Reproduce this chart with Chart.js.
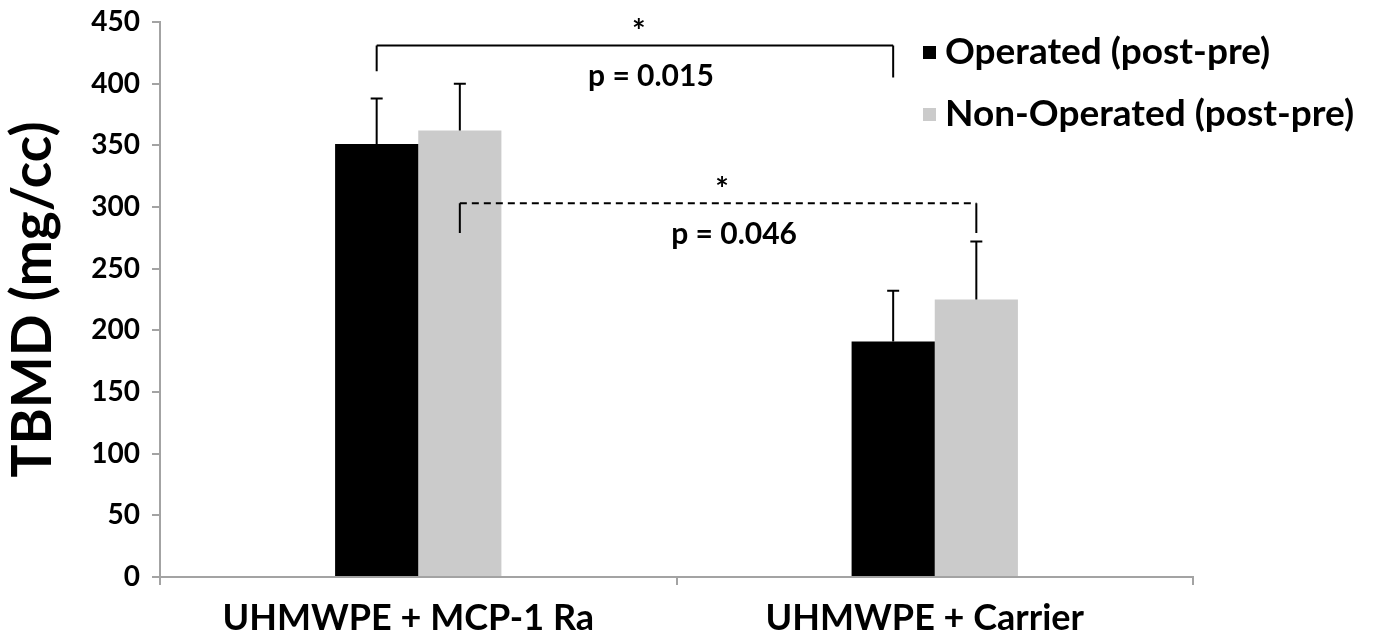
<!DOCTYPE html>
<html>
<head>
<meta charset="utf-8">
<script src="https://cdn.jsdelivr.net/npm/chart.js@4.4.1/dist/chart.umd.min.js"></script>
<style>
  html, body { margin: 0; padding: 0; background: #fff; }
</style>
</head>
<body>
<canvas id="chart" width="1375" height="643"></canvas>
<script>
const categories = ['UHMWPE + MCP-1 Ra', 'UHMWPE + Carrier'];
const seriesNames = ['Operated (post-pre)', 'Non-Operated (post-pre)'];
const operated = [351, 191];
const nonOperated = [362, 225];
const operatedErr = [37, 41];
const nonOperatedErr = [38, 47];

// significance brackets (series index the bracket spans, heights in mg/cc)
const bracketSeries = [0, 1];
const bracketTop = [431, 303];
const bracketLegLeft = [410, 279];
const bracketLegRight = [405, 279];
const bracketStars = ['*', '*'];
const bracketLabels = ['p = 0.015', 'p = 0.046'];

const FONT = 'Lato, "Open Sans", sans-serif';
const axisGray = '#A3A3A3';

const errorBars = {
    id: 'errorBars',
    afterDatasetsDraw(chart) {
        const ctx = chart.ctx;
        const y = chart.scales.y;
        const errs = [operatedErr, nonOperatedErr];
        ctx.save();
        ctx.strokeStyle = '#000';
        ctx.lineWidth = 2;
        chart.data.datasets.forEach((ds, i) => {
            chart.getDatasetMeta(i).data.forEach((bar, j) => {
                const top = y.getPixelForValue(ds.data[j] + errs[i][j]);
                ctx.beginPath();
                ctx.moveTo(bar.x, bar.y);
                ctx.lineTo(bar.x, top);
                ctx.moveTo(bar.x - 6, top);
                ctx.lineTo(bar.x + 6, top);
                ctx.stroke();
            });
        });
        ctx.restore();
    }
};

const brackets = {
    id: 'brackets',
    afterDatasetsDraw(chart) {
        const ctx = chart.ctx;
        const y = chart.scales.y;
        ctx.save();
        ctx.strokeStyle = '#000';
        ctx.fillStyle = '#000';
        ctx.lineWidth = 2;
        bracketSeries.forEach((s, k) => {
            const bars = chart.getDatasetMeta(s).data;
            const x1 = bars[0].x, x2 = bars[1].x;
            const yt = y.getPixelForValue(bracketTop[k]);
            const yl = y.getPixelForValue(bracketLegLeft[k]);
            const yr = y.getPixelForValue(bracketLegRight[k]);
            // legs
            ctx.setLineDash([]);
            ctx.beginPath();
            ctx.moveTo(x1, yl); ctx.lineTo(x1, yt);
            ctx.moveTo(x2, yr); ctx.lineTo(x2, yt);
            ctx.stroke();
            // top line: solid for first, dashed for second
            ctx.setLineDash(k === 0 ? [] : [7, 5]);
            ctx.beginPath();
            ctx.moveTo(x1, yt); ctx.lineTo(x2, yt);
            ctx.stroke();
            ctx.setLineDash([]);
            const cx = (x1 + x2) / 2;
            ctx.textAlign = 'center';
            ctx.textBaseline = 'middle';
            ctx.font = 'bold 32px ' + FONT;
            ctx.fillText(bracketStars[k], cx + 4, yt - 13);
            ctx.font = 'bold 30px ' + FONT;
            ctx.fillText(bracketLabels[k], cx + 16, yt + 31);
        });
        ctx.restore();
    }
};

const sideLegend = {
    id: 'sideLegend',
    afterDraw(chart) {
        const ctx = chart.ctx;
        ctx.save();
        ctx.font = 'bold 37px ' + FONT;
        ctx.textBaseline = 'middle';
        ctx.textAlign = 'left';
        chart.data.datasets.forEach((ds, i) => {
            const cy = 52 + i * 62;
            ctx.fillStyle = ds.backgroundColor;
            ctx.fillRect(923, cy - 6, 13, 13);
            ctx.fillStyle = '#000';
            ctx.fillText(ds.label, 945, cy);
        });
        ctx.restore();
    }
};

new Chart(document.getElementById('chart'), {
    type: 'bar',
    data: {
        labels: categories,
        datasets: [
            {
                label: seriesNames[0],
                data: operated,
                backgroundColor: '#000000',
                borderWidth: 0
            },
            {
                label: seriesNames[1],
                data: nonOperated,
                backgroundColor: '#CBCBCB',
                borderWidth: 0
            }
        ]
    },
    options: {
        responsive: false,
        animation: false,
        devicePixelRatio: 1,
        categoryPercentage: 0.322,
        barPercentage: 1,
        layout: { padding: { top: 22, right: 182, left: 0, bottom: 0 } },
        plugins: {
            legend: { display: false },
            tooltip: { enabled: false }
        },
        scales: {
            x: {
                grid: { offset: true, drawOnChartArea: false, drawTicks: true, tickLength: 8, color: axisGray, lineWidth: 2 },
                border: { color: axisGray, width: 2 },
                ticks: { color: '#000', font: { family: FONT, size: 36, weight: 'bold', lineHeight: 1.1 }, padding: 14, labelOffset: -10 },
                afterFit(scale) {
                    scale.height = 66;
                    scale.paddingLeft = 0;
                    scale.paddingRight = 0;
                }
            },
            y: {
                min: 0,
                max: 450,
                ticks: { stepSize: 50, color: '#000', font: { family: FONT, size: 28, weight: 'bold' }, padding: 12 },
                grid: { drawOnChartArea: false, drawTicks: true, tickLength: 8, color: axisGray, lineWidth: 2 },
                border: { color: axisGray, width: 2 },
                title: {
                    display: true,
                    text: 'TBMD (mg/cc)',
                    color: '#000',
                    font: { family: FONT, size: 55, weight: 'bold' },
                    padding: { top: 0, bottom: 0 }
                },
                afterFit(scale) {
                    scale.width = 160;
                    scale.paddingTop = 0;
                    scale.paddingBottom = 0;
                }
            }
        }
    },
    plugins: [errorBars, brackets, sideLegend]
});
</script>
</body>
</html>
